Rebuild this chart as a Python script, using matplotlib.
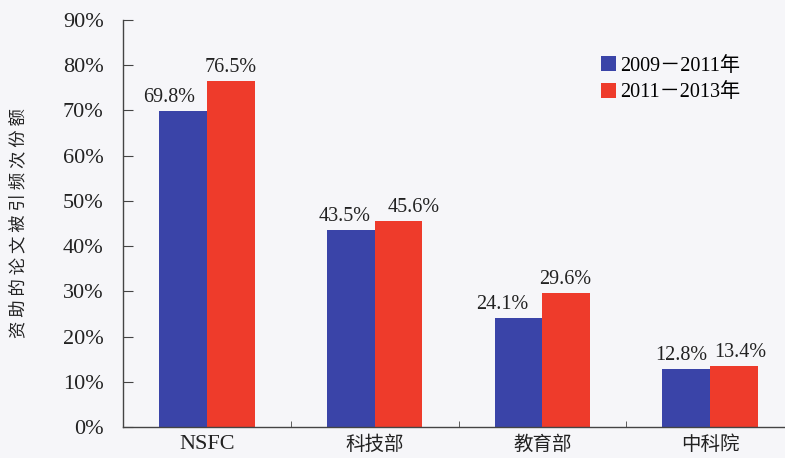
import matplotlib
matplotlib.use("Agg")
import matplotlib.pyplot as plt
import numpy as np

categories = ["NSFC", "科技部", "教育部", "中科院"]
series_names = ["2009－2011年", "2011－2013年"]
values_2009_2011 = [69.8, 43.5, 24.1, 12.8]
values_2011_2013 = [76.5, 45.6, 29.6, 13.4]
yticks = [0, 10, 20, 30, 40, 50, 60, 70, 80, 90]
ylabel = "资助的论文被引频次份额"

FAM = ["Liberation Serif", "Noto Sans CJK SC"]
plt.rcParams["font.family"] = FAM

blue = "#3a44a8"
red = "#ee3b2b"
bg = "#f6f6f9"
txt = "#222222"

fig = plt.figure(figsize=(7.85, 4.58), dpi=100, facecolor=bg)
ax = fig.add_axes([123/785, 31/458, 1 - 123/785, 407/458])
ax.set_facecolor(bg)

x = np.arange(len(categories))
w = 0.285
b1 = ax.bar(x - w/2, values_2009_2011, w, color=blue, label=series_names[0])
b2 = ax.bar(x + w/2, values_2011_2013, w, color=red, label=series_names[1])

off1 = [-14, -6, -16, -5]
off2 = [0, 15, -1, 6]
for bars, vals, offs in ((b1, values_2009_2011, off1), (b2, values_2011_2013, off2)):
    for r, v, o in zip(bars, vals, offs):
        ax.annotate(f"{v:.1f}%", (r.get_x() + r.get_width()/2, v),
                    xytext=(o, 4), textcoords="offset pixels",
                    ha="center", va="bottom", fontsize=14.5, color=txt)

ax.set_ylim(0, 90)
ax.set_xlim(-0.5, 3.446)
ax.set_yticks(yticks)
ax.set_yticklabels([f"{t}%" for t in yticks], fontsize=16, color=txt)
ax.set_xticks(x)
ax.set_xticklabels(categories, color=txt)
for lab in ax.get_xticklabels():
    if lab.get_text().isascii():
        lab.set_fontsize(16)
    else:
        lab.set_fontsize(14)
ax.set_xticks([0.5, 1.5, 2.5], minor=True)
ax.tick_params(axis="x", which="major", length=0, pad=6)
ax.tick_params(axis="x", which="minor", direction="in", length=4, color="#444444")
ax.tick_params(axis="y", direction="in", length=7, color="#444444", pad=14)

for s in ("top", "right"):
    ax.spines[s].set_visible(False)
for s in ("left", "bottom"):
    ax.spines[s].set_color("#444444")
    ax.spines[s].set_linewidth(1.0)

ax.set_ylabel(" ".join(ylabel), fontsize=12.5, family=["Noto Sans CJK SC"], color=txt)
ax.yaxis.set_label_coords(-0.145, 0.5)

leg = ax.legend(loc="upper left", bbox_to_anchor=(0.695, 0.955), frameon=False,
                fontsize=14.5, handlelength=0.75, handleheight=0.75,
                handletextpad=0.2, labelspacing=0.35)

fig.savefig("out.png", dpi=100, facecolor=bg)
